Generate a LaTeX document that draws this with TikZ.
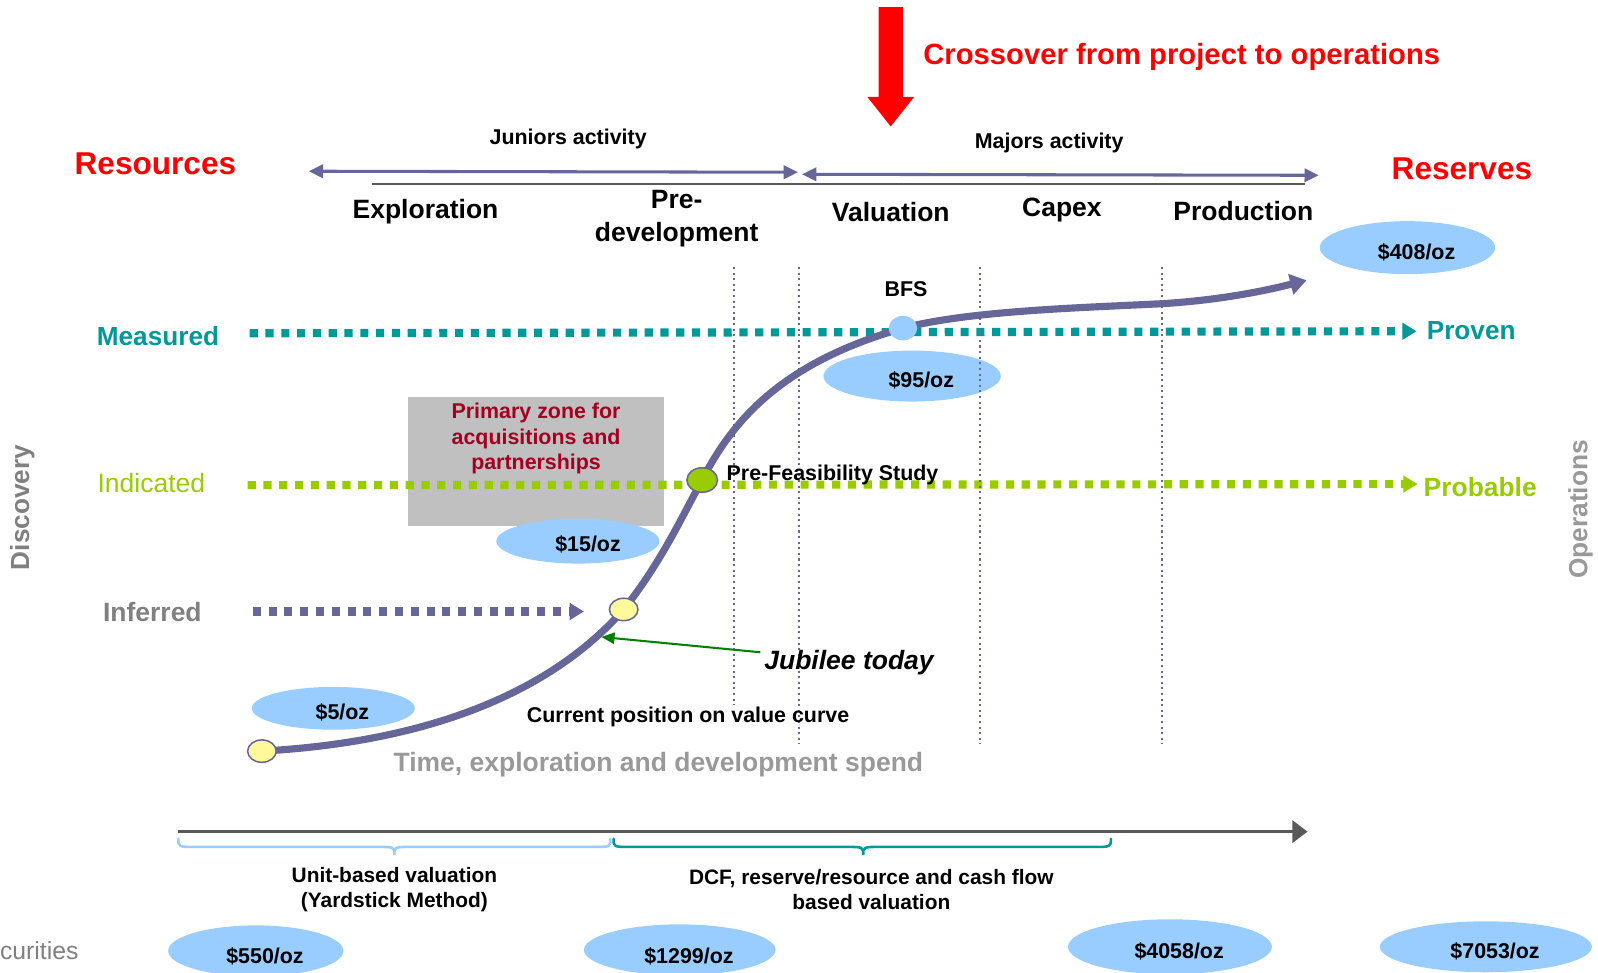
\documentclass[tikz,border=0pt]{standalone}
\usepackage{fontspec}
\setmainfont{Liberation Sans}
\usetikzlibrary{arrows.meta,shapes.geometric}
\definecolor{slate}{HTML}{666699}
\definecolor{tealc}{HTML}{009999}
\definecolor{limec}{HTML}{99CC00}
\definecolor{skyc}{HTML}{99CCFF}
\definecolor{wine}{HTML}{A50021}
\definecolor{boxgray}{HTML}{C0C0C0}
\definecolor{axisgray}{HTML}{595959}
\definecolor{redc}{HTML}{FF0000}
\definecolor{greenc}{HTML}{008000}
\newcommand\fsz[2]{\fontsize{#1}{#2}\selectfont}
\begin{document}
\begin{tikzpicture}[x=1pt,y=-1pt,
  txt/.style={inner sep=0pt,outer sep=0pt,yshift=-2.5pt,font=\bfseries\fsz{21}{25}},
  stage/.style={txt,font=\bfseries\fsz{26}{32},align=center},
  bigred/.style={txt,text=redc,font=\bfseries\fsz{31}{36}},
  blob/.style={ellipse,fill=skyc,draw=none,inner sep=0pt},
  blobtxt/.style={txt,font=\bfseries\fsz{21}{25}},
  dots/.style={line width=8pt,dash pattern=on 8pt off 7.5pt},
  vline/.style={slate,line width=2pt,dash pattern=on 2pt off 3.5pt},
  dbl/.style={slate,line width=3pt,{Triangle[length=14pt,width=13pt]}-{Triangle[length=14pt,width=13pt]}},
  bead/.style={ellipse,draw=slate,line width=1.5pt,inner sep=0pt,minimum width=28pt,minimum height=22pt},
  brace/.style={line width=2.5pt,line cap=round}
]
\useasboundingbox (0,0) rectangle (1568,954);

% ---- red crossover arrow
\fill[redc] (862,7) -- (886,7) -- (886,95) -- (897,95) -- (874,124) -- (851,95) -- (862,95) -- cycle;
\node[txt,text=redc,font=\bfseries\fsz{28.7}{34},anchor=west] (cross) at (906,53) {Crossover from project to operations};

% ---- headings
\node[bigred] (res) at (152.5,158) {Resources};
\node[bigred] (rsv) at (1434.5,163) {Reserves};
\node[txt] (jun) at (557.5,134) {Juniors activity};
\node[txt] (maj) at (1029.5,138) {Majors activity};

\coordinate (ja) at (303,168); \coordinate (jb) at (783,169);
\coordinate (ma) at (787,171); \coordinate (mb) at (1294,172);
\coordinate (ga) at (365,181); \coordinate (gb) at (1280,181);
\draw[dbl] (ja) -- (jb);
\draw[dbl] (ma) -- (mb);
\draw[axisgray,line width=2pt] (ga) -- (gb);

\node[stage] (expl) at (417.5,205) {Exploration};
\node[stage] (pred) at (664,212) {Pre-\\development};
\node[stage] (valu) at (874,206) {Valuation};
\node[stage] (capx) at (1042,204) {Capex};
\node[stage] (prod) at (1220,205) {Production};

% ---- primary zone box
\node[fill=boxgray,minimum width=252pt,minimum height=126pt,inner sep=0pt] (zone) at (526,453) {};
\node[txt,text=wine,align=center] (zonetxt) at (526,428) {Primary zone for\\acquisitions and\\partnerships};

% ---- dotted category lines
\coordinate (m1) at (245,327); \coordinate (m2) at (1390,325);
\coordinate (i1) at (243,476); \coordinate (i2) at (1391,475);
\coordinate (f1) at (248,600); \coordinate (f2) at (573,600);
\draw[dots,tealc,-{Triangle[length=14pt,width=16pt]}] (m1) -- (m2);
\draw[dots,limec,-{Triangle[length=14pt,width=16pt]}] (i1) -- (i2);
\draw[dots,slate,-{Triangle[length=14pt,width=16pt]}] (f1) -- (f2);

\node[txt,text=tealc,font=\bfseries\fsz{25.7}{30}] (meas) at (155,327) {Measured};
\node[txt,text=limec,font=\fsz{26}{30}] (indi) at (148.5,471) {Indicated};
\node[txt,text=gray,font=\bfseries\fsz{26}{30}] (infe) at (149.5,598) {Inferred};
\node[txt,text=tealc,font=\bfseries\fsz{25.7}{30},anchor=west] (prov) at (1400,322) {Proven};
\node[txt,text=limec,font=\bfseries\fsz{25.9}{30},anchor=west] (prob) at (1397,475) {Probable};

% ---- ellipses
\node[blob,minimum width=172pt,minimum height=52pt] (e408) at (1381,243) {};
\node[blob,minimum width=174pt,minimum height=50pt] (e95) at (895,369) {};
\node[blob,minimum width=160pt,minimum height=44pt] (e15) at (567,531) {};
\node[blob,minimum width=160pt,minimum height=42pt] (e5) at (327,695) {};
\node[blob,minimum width=172pt,minimum height=50pt] (e550) at (251,933) {};
\node[blob,minimum width=188pt,minimum height=50pt] (e1299) at (667,932) {};
\node[blob,minimum width=200pt,minimum height=54pt] (e4058) at (1148,929) {};
\node[blob,minimum width=208pt,minimum height=50pt] (e7053) at (1458,929) {};

\node[blobtxt] at (1390,245) {\$408/oz};
\node[blobtxt] at (904,371) {\$95/oz};
\node[blobtxt] at (577,532) {\$15/oz};
\node[blobtxt] at (336,696) {\$5/oz};
\node[blobtxt] at (260,936) {\$550/oz};
\node[blobtxt] at (676,936) {\$1299/oz};
\node[blobtxt] at (1157,931) {\$4058/oz};
\node[blobtxt] at (1467,931) {\$7053/oz};

% ---- value curve
\coordinate (c0) at (257,737);
\coordinate (c1) at (612,598);
\coordinate (c2) at (689,471);
\coordinate (c3) at (886,322);
\coordinate (c4) at (1140,298);
\coordinate (c5) at (1282,275);
\draw[slate,line width=7pt,-{Triangle[length=16pt,width=20pt]}]
  (c0) .. controls (420,728) and (540,680) .. (c1)
       .. controls (650,550) and (670,505) .. (c2)
       .. controls (720,410) and (770,355) .. (c3)
       .. controls (950,305) and (1060,302) .. (c4)
       .. controls (1190,295) and (1235,287) .. (c5);

\node[bead,fill=yellow!40] (b0) at (c0) {};
\node[bead,fill=yellow!40] (b1) at (c1) {};
\node[bead,fill=limec,minimum width=30pt,minimum height=24pt] (b2) at (c2) {};
\node[ellipse,fill=skyc,inner sep=0pt,minimum width=28pt,minimum height=24pt] (bfsdot) at (c3) {};

% ---- vertical dotted phase lines
\coordinate (v1a) at (720,262); \coordinate (v1b) at (720,692);
\coordinate (v2a) at (784,262); \coordinate (v2b) at (784,730);
\coordinate (v3a) at (962,262); \coordinate (v3b) at (962,730);
\coordinate (v4a) at (1140,262); \coordinate (v4b) at (1140,730);
\draw[vline] (v1a) -- (v1b);
\draw[vline] (v2a) -- (v2b);
\draw[vline] (v3a) -- (v3b);
\draw[vline] (v4a) -- (v4b);

% ---- labels on curve
\node[txt] (bfs) at (889,281) {BFS};
\node[txt,anchor=west] (pfs) at (713,464) {Pre-Feasibility Study};
\node[txt,font=\bfseries\itshape\fsz{26}{30},anchor=west] (jub) at (750,648) {Jubilee today};
\coordinate (jubs) at (746,640);
\coordinate (jube) at (590,625);
\draw[greenc,line width=2pt,-{Triangle[length=13pt,width=11pt]}] (jubs) -- (jube);
\node[txt,anchor=west] (cur) at (517,701) {Current position on value curve};
\node[txt,text=black!40,font=\bfseries\fsz{26}{30}] (time) at (646,748) {Time, exploration and development spend};

% ---- bottom axis and braces
\coordinate (xa) at (175,816); \coordinate (xb) at (1283,816);
\draw[axisgray,line width=2.5pt,-{Triangle[length=15pt,width=22pt]}] (xa) -- (xb);

\draw[brace,skyc] (175,823) .. controls (175,831) .. (192,831) -- (370,831)
  .. controls (387,831) .. (387,839) .. controls (387,831) .. (404,831) -- (582,831)
  .. controls (599,831) .. (599,823);
\draw[brace,tealc] (602,823) .. controls (602,831) .. (619,831) -- (830,831)
  .. controls (847,831) .. (847,839) .. controls (847,831) .. (864,831) -- (1073,831)
  .. controls (1090,831) .. (1090,823);

\node[txt,align=center,font=\bfseries\fsz{20.5}{25}] (unit) at (387,870.5) {Unit-based valuation\\(Yardstick Method)};
\node[txt,align=center,font=\bfseries\fsz{20.5}{25}] (dcf) at (855,870.5) {DCF, reserve/resource and cash flow\\based valuation};

\node[txt,text=gray,font=\fsz{24.3}{28},anchor=east] (sec) at (77,930) {curities};

% ---- side labels
\node[inner sep=0pt,text=gray,font=\bfseries\fsz{25.7}{30},rotate=90] (disc) at (22,498) {Discovery};
\node[inner sep=0pt,text=black!40,font=\bfseries\fsz{25.8}{30},rotate=90] (oper) at (1551,500) {Operations};
\end{tikzpicture}
\end{document}
